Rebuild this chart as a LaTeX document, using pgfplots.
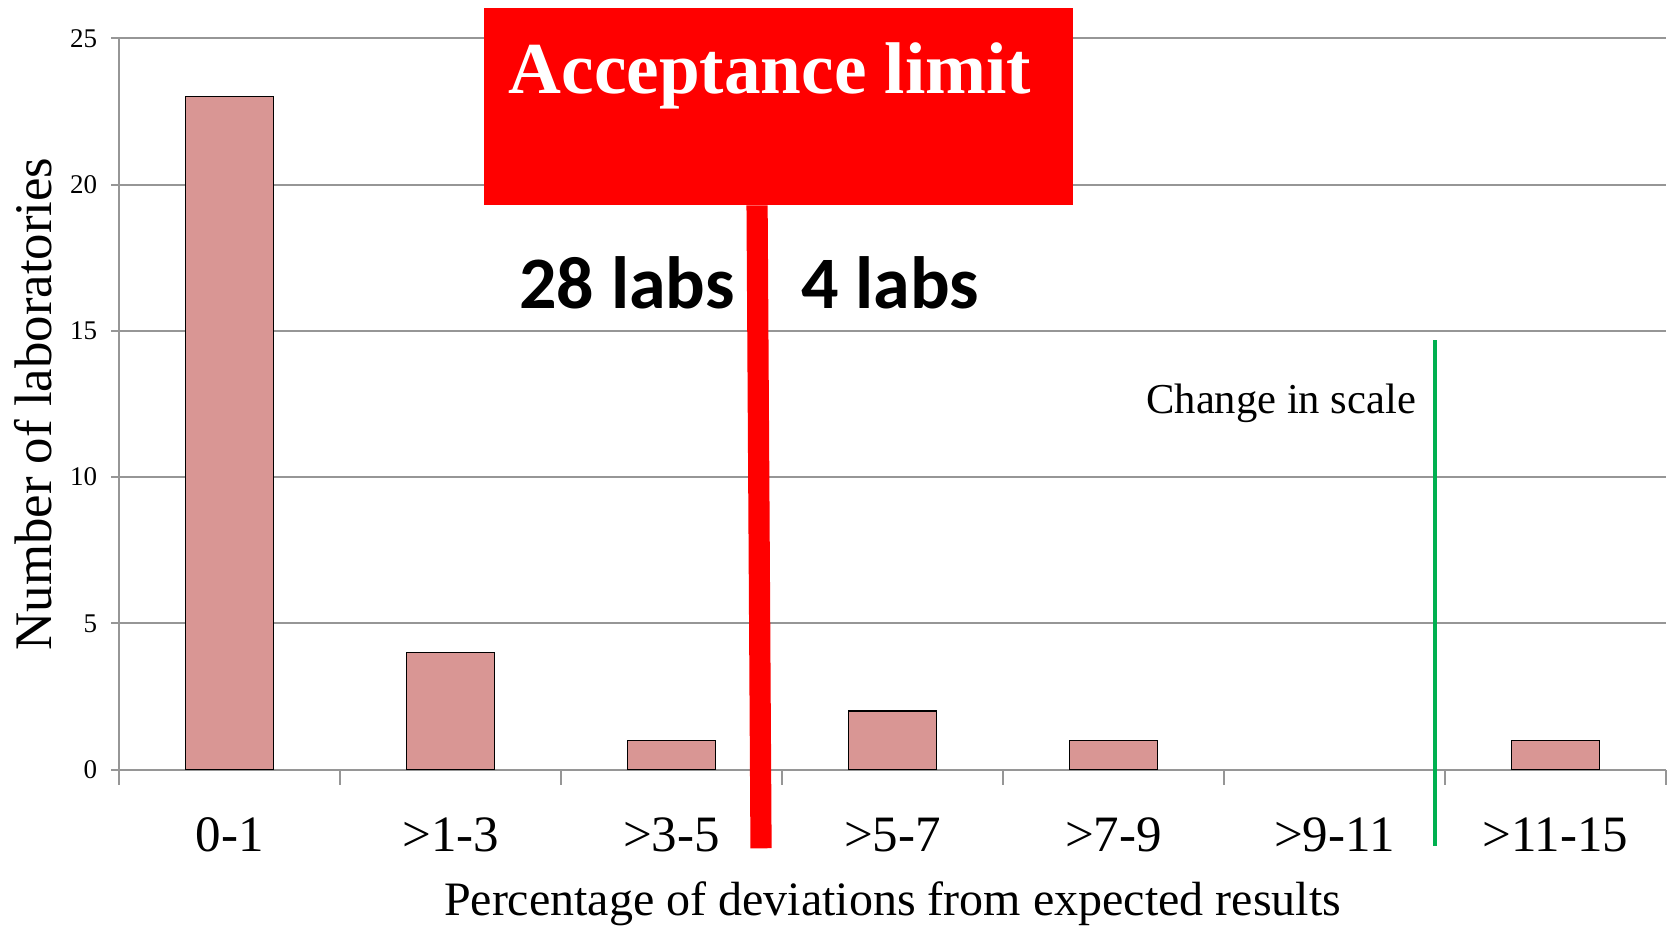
\documentclass[border=0pt]{standalone}
\usepackage{pgfplots}
\pgfplotsset{compat=1.18}
\usepackage{fontspec}
\setmainfont{Liberation Serif}
\newfontfamily\calibri{Carlito}
\definecolor{barfill}{RGB}{217,150,148}
\definecolor{gridgray}{RGB}{150,150,150}
\definecolor{accgreen}{RGB}{0,176,80}
\begin{document}
\begin{tikzpicture}
\useasboundingbox (0,0) rectangle (834.5pt,463pt);
\begin{axis}[
  at={(59.6pt,78.2pt)}, anchor=south west,
  scale only axis, width=773.3pt, height=365.65pt,
  xmin=-0.5, xmax=6.5, ymin=0, ymax=25,
  clip=false,
  axis lines*=left,
  axis line style={gridgray, line width=1pt},
  ytick={0,5,...,25},
  ymajorgrids, grid style={gridgray, line width=1pt},
  xtick={0,...,6},
  xticklabels={0-1,>1-3,>3-5,>5-7,>7-9,>9-11,>11-15},
  minor xtick={-0.5,0.5,...,6.5},
  major tick length=4pt, minor tick length=7.5pt,
  tick align=outside,
  major x tick style={draw=none},
  minor x tick style={gridgray, line width=1pt},
  ytick style={gridgray, line width=1pt},
  /pgf/number format/assume math mode=true,
  yticklabel style={font=\fontsize{13.5}{13.5}\selectfont, anchor=east, xshift=-3.5pt},
  xticklabel style={font=\fontsize{25.5}{26}\selectfont, anchor=base, yshift=-37pt},
  xlabel={Percentage of deviations from expected results},
  xlabel style={font=\fontsize{24}{25}\selectfont, at={(axis description cs:0.5,-0.184)}, anchor=center},
  ylabel={Number of laboratories},
  ylabel style={font=\fontsize{26.4}{27}\selectfont, at={(axis description cs:-0.0557,0.5)}, anchor=center},
]
\addplot[ybar, bar width=0.4, fill=barfill, draw=black, line width=0.6pt]
  coordinates {(0,23) (1,4) (2,1) (3,2) (4,1) (6,1)};
\fill[red] (axis cs:1.152,19.29) rectangle (axis cs:3.817,26.02);
\node[anchor=base, text=white, font=\fontsize{36.6}{37}\selectfont\bfseries, inner sep=0pt] at (axis cs:2.446,23.11) {Acceptance limit};
\draw[red, line width=10.6pt] (axis cs:2.387,19.29) -- (axis cs:2.405,-2.69);
\draw[accgreen, line width=2.4pt] (axis cs:5.455,14.67) -- (axis cs:5.455,-2.62);
\node[anchor=base, font=\fontsize{21.3}{22}\selectfont, inner sep=0pt] at (axis cs:4.759,12.19) {Change in scale};
\node[anchor=base, font=\calibri\bfseries\fontsize{37}{37}\selectfont, inner sep=0pt] at (axis cs:1.798,15.76) {28 labs};
\node[anchor=base, font=\calibri\bfseries\fontsize{37}{37}\selectfont, inner sep=0pt] at (axis cs:2.99,15.76) {4 labs};
\end{axis}
\end{tikzpicture}
\end{document}
